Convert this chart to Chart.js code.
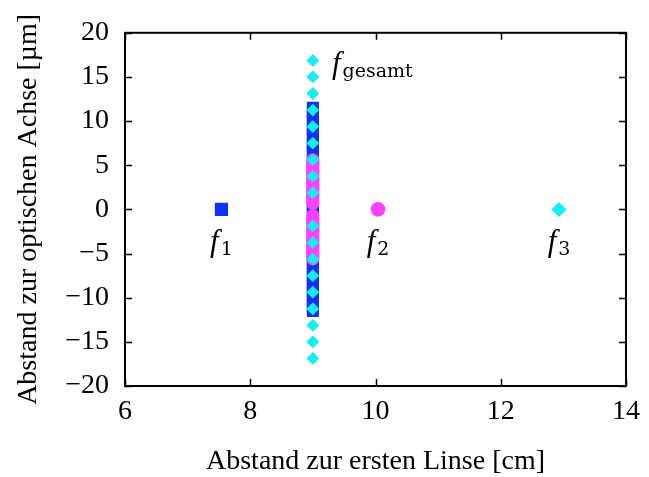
<!DOCTYPE html>
<html>
<head>
<meta charset="utf-8">
<script src="https://cdn.jsdelivr.net/npm/chart.js@4/dist/chart.umd.min.js"></script>
<style>
  html, body { margin: 0; padding: 0; background: #ffffff; }
  #wrap { width: 649px; height: 477px; }
</style>
</head>
<body>
<div id="wrap"><canvas id="c" width="649" height="477"></canvas></div>
<script>
// ---- data ----
const xTicks = [6, 8, 10, 12, 14];
const yTicks = [-20, -15, -10, -5, 0, 5, 10, 15, 20];

// image plane position (all rays at x = 9 cm)
const gesamtX = 9;
// cyan diamonds (f3 rays / f_gesamt)
const cyanY = [16.875, 15, 13.125, 11.25, 9.375, 7.5, 5.625, 3.75, 1.875,
               -1.875, -3.75, -5.625, -7.5, -9.375, -11.25, -13.125, -15, -16.875];
// magenta circles (f2 rays)
const magentaY = [5.6, 5.3, 5.0, 4.7, 4.4, 4.1, 3.8, 3.5, 3.2, 2.9, 2.6, 2.3, 2.0, 1.7, 1.4, 1.1, 0.7,
                  -0.7, -1.1, -1.4, -1.7, -2.0, -2.3, -2.6, -2.9, -3.2, -3.5, -3.8, -4.1, -4.4, -4.7, -5.0, -5.3, -5.6];
// blue squares (f1 rays)
const blueY = [11.5, 11, 10.5, 10, 9.5, 9, 8.5, 8, 7.5, 7, 6.5, 6, 5.5, 5, 4.5, 4, 3.5, 3,
               2.5, 2, 1.5, 1, 0.5, 0, -0.5, -1, -1.5, -2, -2.5, -3, -3.5, -4, -4.5, -5,
               -5.5, -6, -6.5, -7, -7.5, -8, -8.5, -9, -9.5, -10, -10.5, -11, -11.5];

// focal points
const focalNames = ['1', '2', '3'];
const focalX = [7.54, 10.04, 12.93];
const focalY = [0, 0, 0];

const colBlue = '#1030ff';
const colMagenta = '#ff40ff';
const colCyan = '#10f0f0';

const serif = "'Liberation Serif', 'Times New Roman', serif";
const subSerif = "'DejaVu Serif', serif";

function pts(x, ys) { return ys.map(y => ({x: x, y: y})); }

// ---- plugins ----
const framePlugin = {
  id: 'frame',
  afterDatasetsDraw(chart) {
    const {ctx, chartArea: a, scales} = chart;
    const tl = 7;
    ctx.save();
    ctx.strokeStyle = '#000';
    ctx.lineWidth = 1.5;
    ctx.beginPath();
    xTicks.forEach(v => {
      const px = Math.round(scales.x.getPixelForValue(v)) + 0.5;
      ctx.moveTo(px, a.bottom); ctx.lineTo(px, a.bottom - tl);
      ctx.moveTo(px, a.top); ctx.lineTo(px, a.top + tl);
    });
    yTicks.forEach(v => {
      const py = Math.round(scales.y.getPixelForValue(v)) + 0.5;
      ctx.moveTo(a.left, py); ctx.lineTo(a.left + tl, py);
      ctx.moveTo(a.right, py); ctx.lineTo(a.right - tl, py);
    });
    ctx.stroke();
    ctx.lineWidth = 2;
    ctx.strokeRect(a.left, a.top, a.right - a.left, a.bottom - a.top);
    ctx.restore();
  }
};

function drawFLabel(ctx, sub, x, y, align, mainSize, subSize, subDrop) {
  ctx.font = 'italic ' + mainSize + 'px ' + serif;
  const wf = ctx.measureText('f').width;
  ctx.font = subSize + 'px ' + subSerif;
  const ws = ctx.measureText(sub).width;
  const total = wf + 2 + ws;
  let sx = align === 'center' ? x - total / 2 : x;
  ctx.textAlign = 'left';
  ctx.textBaseline = 'alphabetic';
  ctx.fillStyle = '#000';
  ctx.font = 'italic ' + mainSize + 'px ' + serif;
  ctx.fillText('f', sx, y);
  ctx.font = subSize + 'px ' + subSerif;
  ctx.fillText(sub, sx + wf + 2, y + subDrop);
}

const labelPlugin = {
  id: 'flabels',
  afterDatasetsDraw(chart) {
    const {ctx, scales} = chart;
    ctx.save();
    for (let i = 0; i < focalNames.length; i++) {
      const px = scales.x.getPixelForValue(focalX[i]);
      const py = scales.y.getPixelForValue(focalY[i]);
      drawFLabel(ctx, focalNames[i], px, py + 42, 'center', 31, 19, 4);
    }
    const gx = scales.x.getPixelForValue(gesamtX);
    const gy = scales.y.getPixelForValue(cyanY[0]);
    drawFLabel(ctx, 'gesamt', gx + 19, gy + 13, 'left', 31, 19, 4);
    ctx.restore();
  }
};

// ---- chart ----
new Chart(document.getElementById('c'), {
  type: 'scatter',
  data: {
    datasets: [
      { label: 'f_gesamt', data: pts(gesamtX, cyanY), pointStyle: 'rectRot',
        pointRadius: 6.4, backgroundColor: colCyan, borderWidth: 0 },
      { label: 'f2 rays', data: pts(gesamtX, magentaY), pointStyle: 'circle',
        pointRadius: 6.6, backgroundColor: colMagenta, borderWidth: 0 },
      { label: 'f1 rays', data: pts(gesamtX, blueY), pointStyle: 'rect',
        pointRadius: 8.5, backgroundColor: colBlue, borderWidth: 0 },
      { label: 'f1', data: [{x: focalX[0], y: focalY[0]}], pointStyle: 'rect',
        pointRadius: 9.3, backgroundColor: colBlue, borderWidth: 0 },
      { label: 'f2', data: [{x: focalX[1], y: focalY[1]}], pointStyle: 'circle',
        pointRadius: 7.3, backgroundColor: colMagenta, borderWidth: 0 },
      { label: 'f3', data: [{x: focalX[2], y: focalY[2]}], pointStyle: 'rectRot',
        pointRadius: 7.5, backgroundColor: colCyan, borderWidth: 0 }
    ]
  },
  options: {
    responsive: false,
    animation: false,
    devicePixelRatio: 1,
    layout: { padding: { left: 0, right: 15, top: 26, bottom: 0 } },
    plugins: { legend: { display: false }, tooltip: { enabled: false } },
    elements: { point: { hoverRadius: 0 } },
    scales: {
      x: {
        type: 'linear', min: 6, max: 14,
        afterBuildTicks(s) { s.ticks = xTicks.map(v => ({value: v})); },
        afterFit(s) { s.height = 91; },
        grid: { display: false, drawTicks: false },
        border: { display: false },
        ticks: { padding: 9, color: '#000', font: { family: serif, size: 28 },
                 maxRotation: 0, autoSkip: false,
                 callback: v => String(v).replace('-', '\u2212') },
        title: { display: true, text: 'Abstand zur ersten Linse [cm]', color: '#000',
                 font: { family: serif, size: 28, lineHeight: 1.1 }, padding: { top: 1, bottom: 0 } }
      },
      y: {
        type: 'linear', min: -20, max: 20,
        afterBuildTicks(s) { s.ticks = yTicks.map(v => ({value: v})); },
        afterFit(s) { s.width = 125; },
        grid: { display: false, drawTicks: false },
        border: { display: false },
        ticks: { padding: 16, color: '#000', font: { family: serif, size: 28 },
                 autoSkip: false,
                 callback: v => String(v).replace('-', '\u2212') },
        title: { display: true, text: 'Abstand zur optischen Achse [\u00b5m]', color: '#000',
                 font: { family: serif, size: 28, lineHeight: 1.1 }, padding: { top: 13, bottom: 0 } }
      }
    }
  },
  plugins: [framePlugin, labelPlugin]
});
</script>
</body>
</html>
